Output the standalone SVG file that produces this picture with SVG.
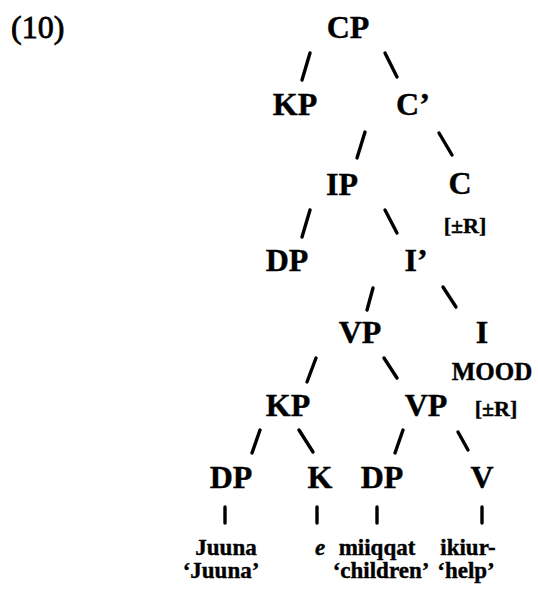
<svg xmlns="http://www.w3.org/2000/svg" width="538" height="598" viewBox="0 0 538 598">
<style>
text{font-family:"Liberation Serif","Times New Roman",serif;fill:#000;text-anchor:middle;stroke:#000;stroke-width:0.4}
.n{font-size:32px;font-weight:bold}
.f{font-size:22px;font-weight:bold}
.m{font-size:25px;font-weight:bold}
.w{font-size:23px;font-weight:bold}
.num{font-size:32px;text-anchor:start;stroke-width:0.8}
.it{font-style:italic}
#edges line{stroke:#000;stroke-width:3.4;stroke-linecap:round}
</style>
<rect width="538" height="598" fill="#fff" stroke="none"/>
<text class="num" x="11" y="38">(10)</text>
<g id="edges">
<line x1="310" y1="53" x2="302" y2="80"/>
<line x1="385" y1="53" x2="397" y2="77"/>
<line x1="365" y1="132" x2="357" y2="158"/>
<line x1="439" y1="133" x2="452" y2="155"/>
<line x1="310" y1="210" x2="302" y2="237"/>
<line x1="385" y1="210" x2="397" y2="233"/>
<line x1="373" y1="288" x2="367" y2="310"/>
<line x1="443" y1="287" x2="456" y2="307"/>
<line x1="316" y1="358" x2="307" y2="382"/>
<line x1="384" y1="358" x2="397" y2="378"/>
<line x1="260" y1="430" x2="252" y2="453"/>
<line x1="299" y1="430" x2="313" y2="452"/>
<line x1="403" y1="430" x2="395" y2="453"/>
<line x1="458" y1="432" x2="468" y2="450"/>
<line x1="225" y1="507" x2="225" y2="523"/>
<line x1="317" y1="507" x2="317" y2="523"/>
<line x1="377" y1="507" x2="377" y2="523"/>
<line x1="482" y1="507" x2="482" y2="523"/>
</g>
<g id="cp"><text class="n" x="348" y="38">CP</text></g>
<g id="kp1"><text class="n" x="295" y="115">KP</text></g>
<g id="cbar"><text class="n" x="413" y="115">C’</text></g>
<g id="ip"><text class="n" x="342" y="195">IP</text></g>
<g id="c"><text class="n" x="460" y="194">C</text><text class="f" x="465" y="233">[±R]</text></g>
<g id="dp1"><text class="n" x="287" y="271">DP</text></g>
<g id="ibar"><text class="n" x="416" y="271">I’</text></g>
<g id="vp1"><text class="n" x="360" y="343">VP</text></g>
<g id="i"><text class="n" x="482" y="343">I</text><text class="m" x="492" y="380">MOOD</text><text class="f" x="496" y="416">[±R]</text></g>
<g id="kp2"><text class="n" x="288" y="416">KP</text></g>
<g id="vp2"><text class="n" x="426" y="416">VP</text></g>
<g id="dp2"><text class="n" x="231" y="488">DP</text></g>
<g id="k"><text class="n" x="320" y="488">K</text></g>
<g id="dp3"><text class="n" x="382" y="488">DP</text></g>
<g id="v"><text class="n" x="482" y="488">V</text></g>
<g id="w1"><text class="w" x="226" y="555">Juuna</text><text class="w" x="221" y="578">‘Juuna’</text></g>
<g id="w2"><text class="w it" x="320" y="555">e</text></g>
<g id="w3"><text class="w" x="377" y="555">miiqqat</text><text class="w" x="381" y="578">‘children’</text></g>
<g id="w4"><text class="w" x="468" y="555">ikiur-</text><text class="w" x="466" y="578">‘help’</text></g>
</svg>
